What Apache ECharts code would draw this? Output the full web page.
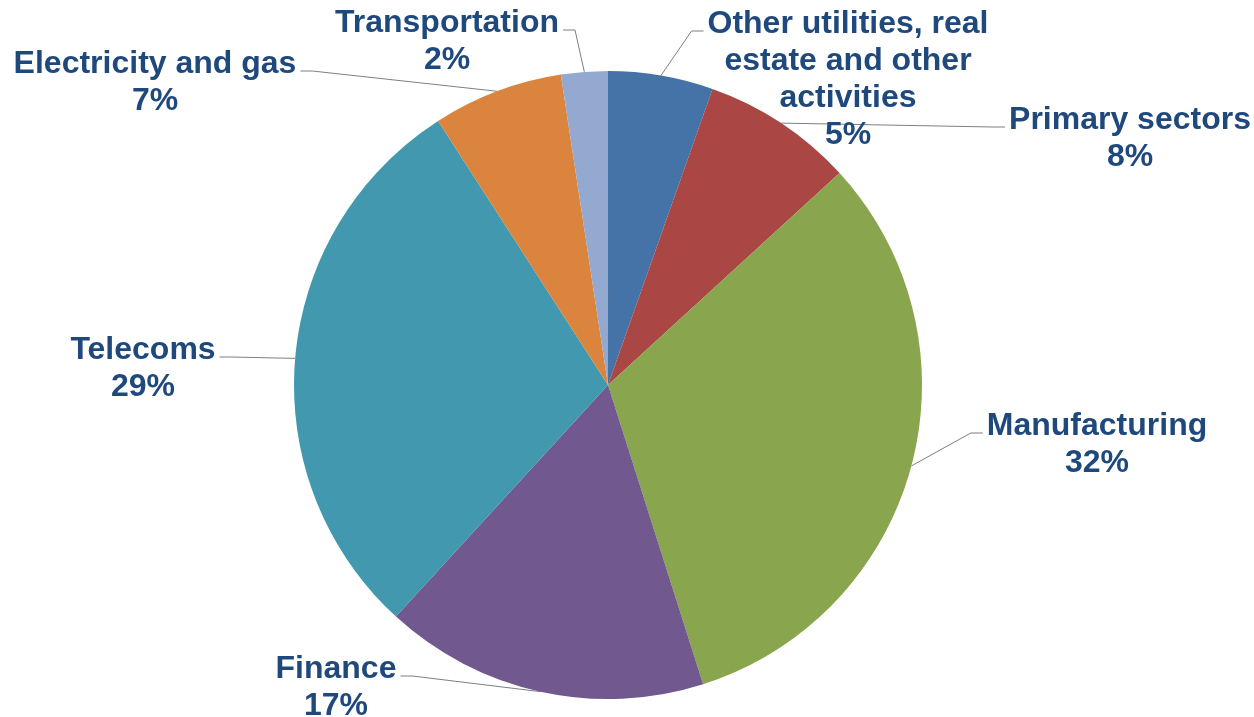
<!DOCTYPE html>
<html>
<head>
<meta charset="utf-8">
<script src="https://cdn.jsdelivr.net/npm/echarts@6/dist/echarts.min.js"></script>
<style>
html,body{margin:0;padding:0;background:#fff;}
#chart{width:1254px;height:717px;}
</style>
</head>
<body>
<div id="chart"></div>
<script>
// ---- data ----
const categories = [
  'Other utilities, real\nestate and other\nactivities',
  'Primary sectors',
  'Manufacturing',
  'Finance',
  'Telecoms',
  'Electricity and gas',
  'Transportation'
];
const shares = [5.4, 7.8, 31.9, 16.7, 29.1, 6.7, 2.4];
const sliceColors = ['#4572A7', '#AA4643', '#89A54E', '#71588F', '#4198AF', '#DB843D', '#93A9CF'];

// ---- layout (label block centers) ----
const labelCenters = [
  [848, 80], [1130, 139], [1097, 445], [336, 688], [143, 369], [155, 83], [447, 42]
];
const CX = 608, CY = 385, R = 314;

const total = shares.reduce((a, b) => a + b, 0);
const cum = [];
shares.reduce((acc, v, i) => { cum[i] = acc; return acc + v; }, 0);

const chart = echarts.init(document.getElementById('chart'), null, {renderer: 'canvas'});
chart.setOption({
  backgroundColor: '#ffffff',
  animation: false,
  series: [{
    type: 'pie',
    center: [CX, CY],
    radius: R,
    startAngle: 90,
    clockwise: true,
    avoidLabelOverlap: false,
    percentPrecision: 0,
    data: categories.map((c, i) => ({
      name: c, value: shares[i], itemStyle: {color: sliceColors[i]}
    })),
    label: {
      show: true,
      position: 'outside',
      formatter: '{b}\n{d}%',
      color: '#1F497D',
      fontFamily: 'Liberation Sans, Arial, sans-serif',
      fontWeight: 'bold',
      fontSize: 32,
      lineHeight: 37,
      align: 'center'
    },
    labelLine: {
      show: true,
      smooth: false,
      length: 10,
      length2: 10,
      lineStyle: {color: '#7F7F7F', width: 1}
    },
    labelLayout: function (params) {
      const i = params.dataIndex;
      const c = labelCenters[i];
      const w = params.labelRect.width, h = params.labelRect.height;
      const theta = 2 * Math.PI * (cum[i] + shares[i] / 2) / total;
      const ax = CX + R * Math.sin(theta), ay = CY - R * Math.cos(theta);
      const attachY = c[1] - h / 2 + 25;
      let ex, bx;
      if (ax < c[0]) { ex = c[0] - w / 2 - 4; bx = ex - 12; }
      else { ex = c[0] + w / 2 + 4; bx = ex + 12; }
      return {
        x: c[0], y: c[1], align: 'center', verticalAlign: 'middle',
        labelLinePoints: [[ax, ay], [bx, attachY], [ex, attachY]]
      };
    }
  }]
});
</script>
</body>
</html>
